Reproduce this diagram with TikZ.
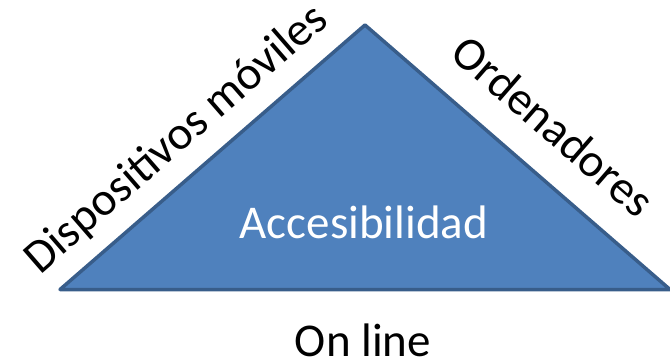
\documentclass[tikz,border=0pt]{standalone}
\usepackage{fontspec}
\setmainfont{Carlito}
\definecolor{trifill}{HTML}{4F81BD}
\definecolor{tristroke}{HTML}{385D8A}
\begin{document}
\begin{tikzpicture}[x=1pt,y=-1pt,
  lbl/.style={inner sep=0pt,font=\fontsize{47}{56}\selectfont}]
\useasboundingbox (0,0) rectangle (670,362);
\coordinate (L) at (60,289.5);
\coordinate (T) at (365,25);
\coordinate (R) at (670,289.5);
\draw[fill=trifill,draw=tristroke,line width=3.5pt,line join=round] (L) -- (T) -- (R) -- cycle;
\node[lbl,text=white,anchor=base] (acc) at (364,238) {Accesibilidad};
\node[lbl,anchor=base] (onl) at (363,356) {On line};
\node[lbl,anchor=base,rotate=41] (disp) at (185,149) {Dispositivos móviles};
\node[lbl,anchor=base,rotate=-41] (ord) at (543,138) {Ordenadores};
\end{tikzpicture}
\end{document}
